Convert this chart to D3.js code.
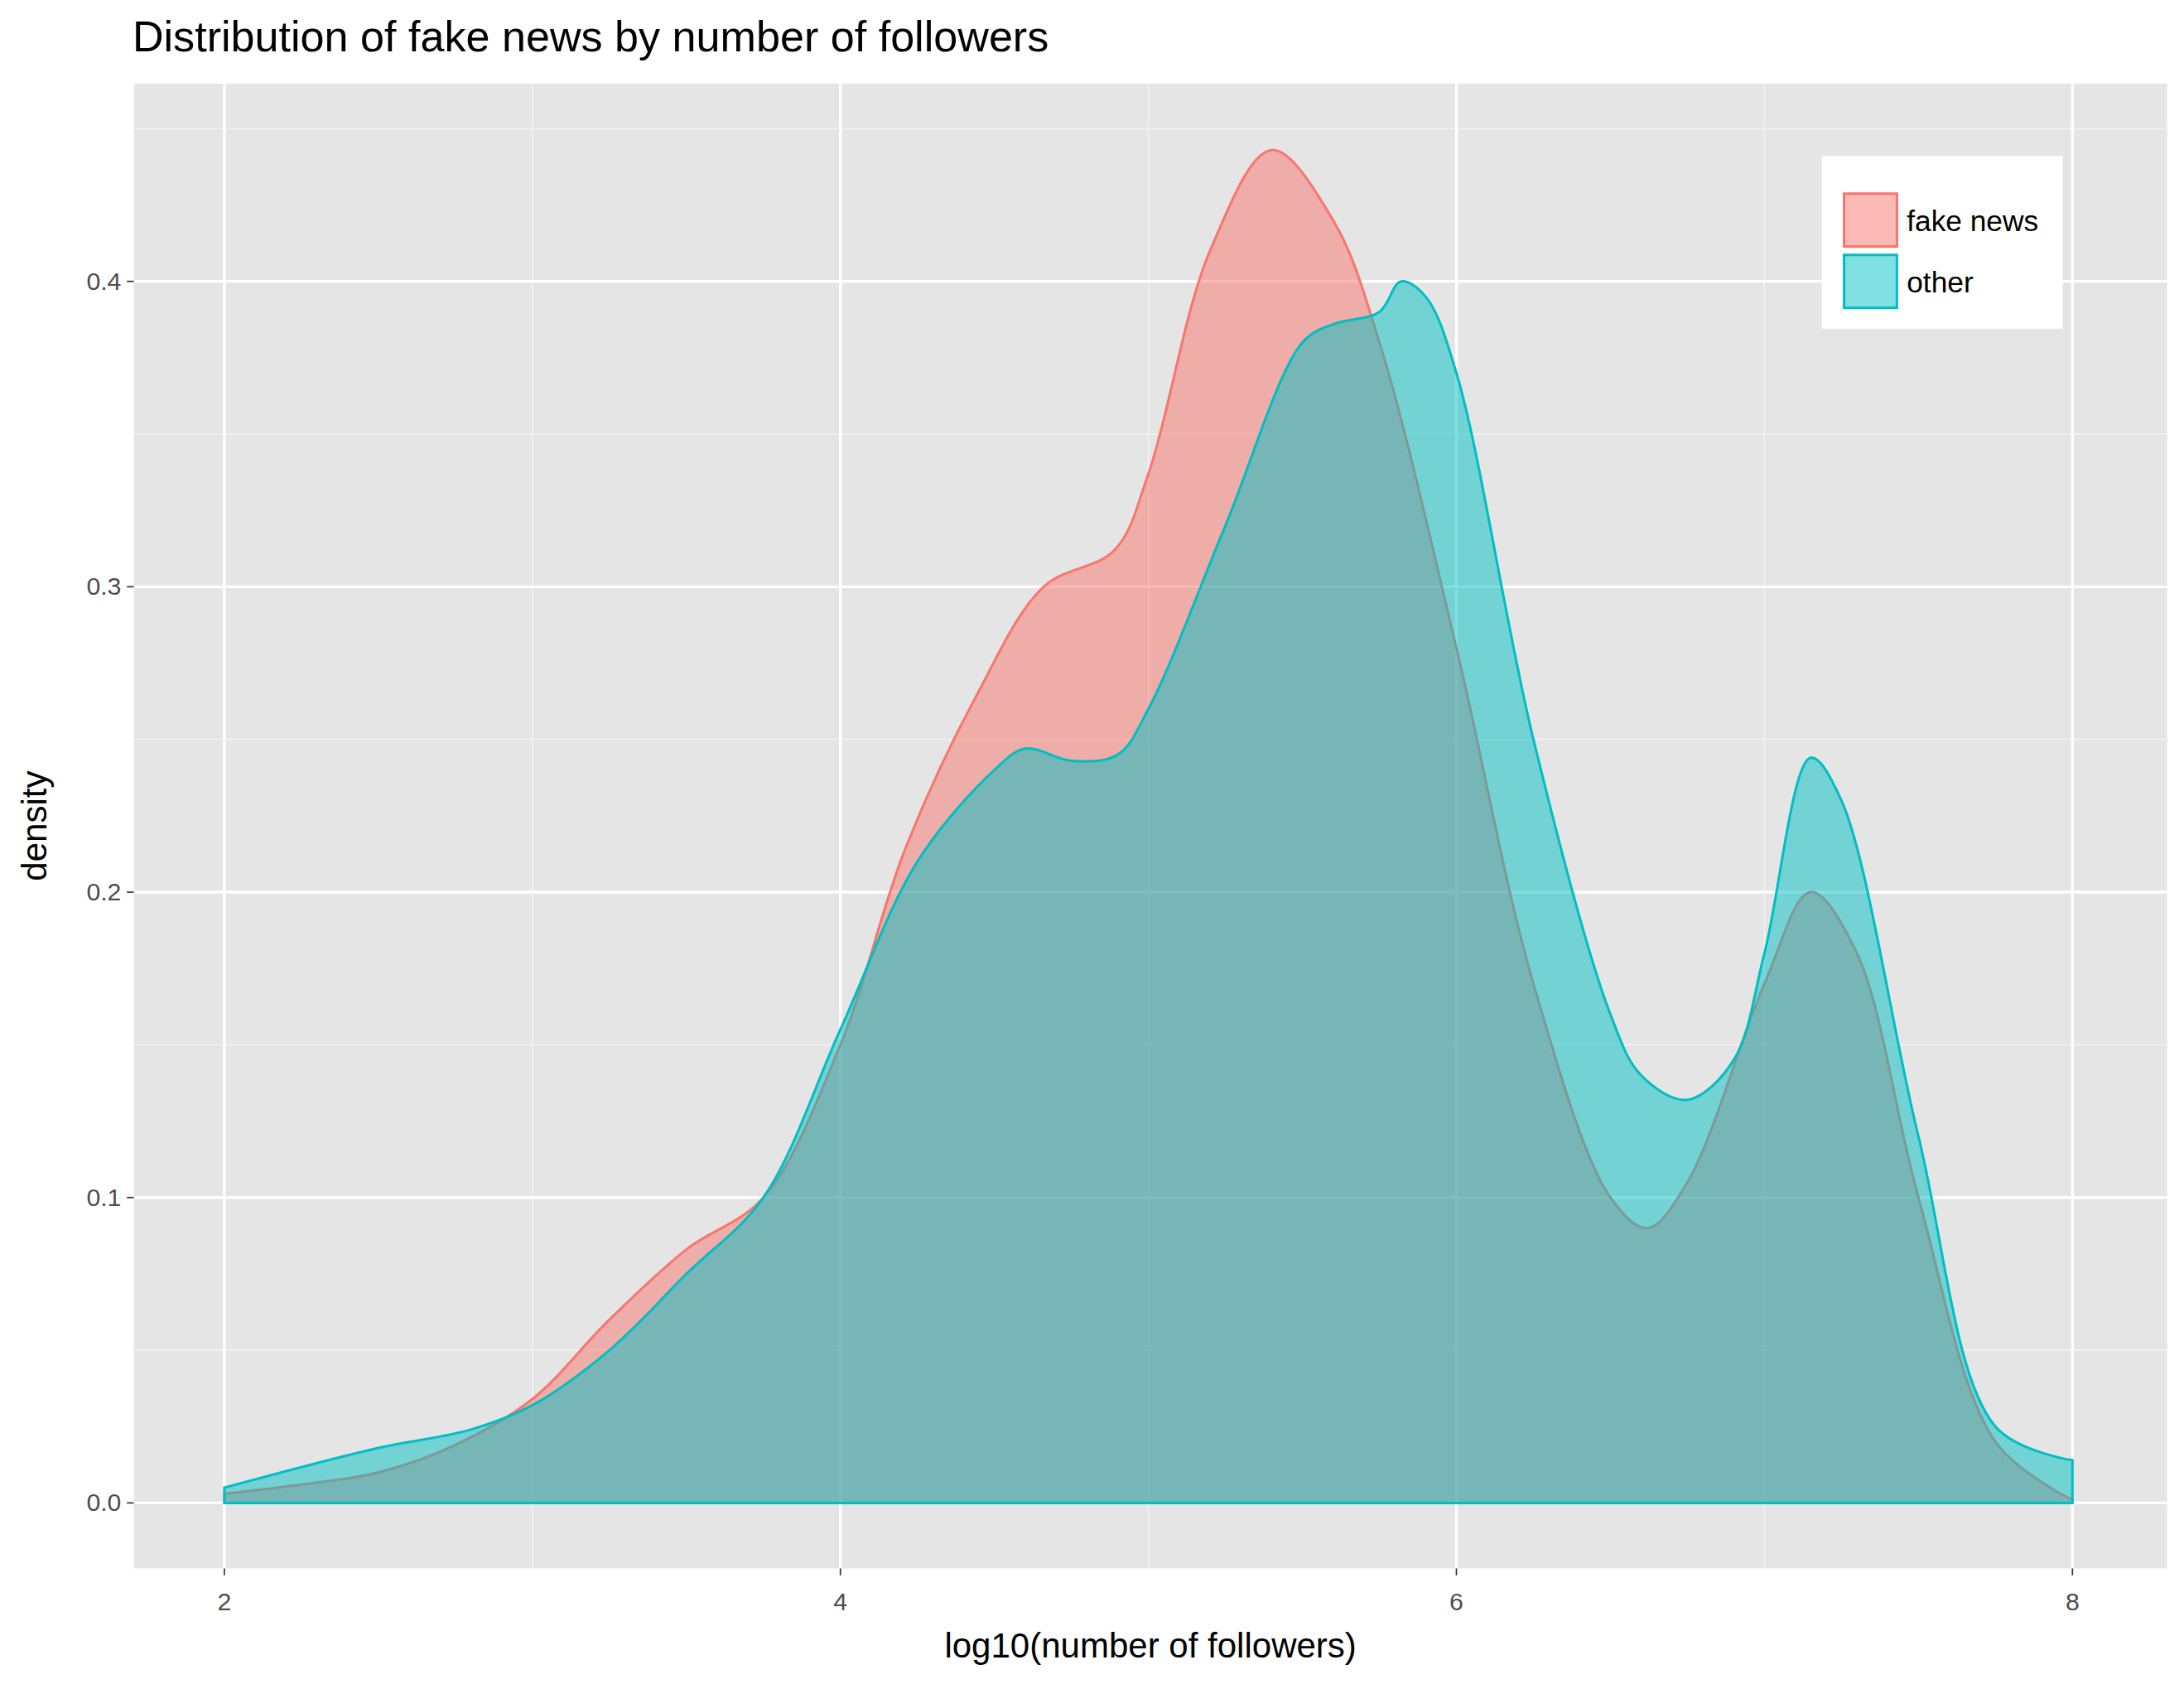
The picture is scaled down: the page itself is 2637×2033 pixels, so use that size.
<!DOCTYPE html><html><head><meta charset="utf-8"><script src="https://cdn.jsdelivr.net/npm/d3@7"></script>
<style>body{margin:0;background:#fff}text{font-family:"Liberation Sans",Arial,sans-serif}</style></head><body>
<script>
const xTicks=[2,4,6,8];
const yTicks=[0,0.1,0.2,0.3,0.4];
const seriesNames=["fake news","other"];
const seriesColors=["#F8766D","#00BFC4"];
const fakeX=[2.0,2.25,2.5,2.75,3.0,3.25,3.5,3.75,4.0,4.21,4.44,4.66,4.89,5.0,5.2,5.4,5.6,5.75,6.0,6.25,6.5,6.62,6.75,7.0,7.15,7.3,7.5,7.75,8.0];
const fakeY=[0.003,0.006,0.010,0.019,0.034,0.060,0.083,0.100,0.15,0.214,0.264,0.300,0.312,0.337,0.41,0.443,0.42,0.38,0.28,0.17,0.10,0.09,0.105,0.17,0.2,0.18,0.10,0.02,0.001];
const otherX=[2.0,2.5,2.8,3.0,3.25,3.5,3.75,4.0,4.25,4.5,4.6,4.75,4.9,5.0,5.25,5.5,5.6,5.75,5.82,5.9,6.0,6.25,6.5,6.6,6.75,6.9,7.0,7.15,7.25,7.5,7.75,8.0];
const otherY=[0.005,0.018,0.024,0.032,0.05,0.075,0.10,0.155,0.21,0.24,0.247,0.243,0.245,0.26,0.32,0.38,0.386,0.39,0.40,0.395,0.37,0.25,0.16,0.14,0.132,0.145,0.18,0.244,0.23,0.12,0.025,0.014];

const W=1568,H=1209;
const svg=d3.select("body").append("svg").attr("width",2637).attr("height",2033).attr("viewBox",`0 0 ${W} ${H}`);
const L=96,R=1556,T=60,B=1126;
const x=d3.scaleLinear().domain([2,8]).range([161,1488]);
const y=d3.scaleLinear().domain([0,0.4]).range([1079,202]);
svg.append("rect").attr("x",L).attr("y",T).attr("width",R-L).attr("height",B-T).attr("fill","#E5E5E5");
[3,5,7].forEach(v=>svg.append("line").attr("x1",x(v)).attr("x2",x(v)).attr("y1",T).attr("y2",B).attr("stroke","#F2F2F2").attr("stroke-width",1));
[0.05,0.15,0.25,0.35,0.45].forEach(v=>svg.append("line").attr("x1",L).attr("x2",R).attr("y1",y(v)).attr("y2",y(v)).attr("stroke","#F2F2F2").attr("stroke-width",1));
xTicks.forEach(v=>svg.append("line").attr("x1",x(v)).attr("x2",x(v)).attr("y1",T).attr("y2",B).attr("stroke","#fff").attr("stroke-width",2));
yTicks.forEach(v=>svg.append("line").attr("x1",L).attr("x2",R).attr("y1",y(v)).attr("y2",y(v)).attr("stroke","#fff").attr("stroke-width",2));
const data=[d3.zip(fakeX,fakeY),d3.zip(otherX,otherY)];
const curve=d3.curveCatmullRom.alpha(0.5);
const area=d3.area().x(d=>x(d[0])).y0(y(0)).y1(d=>y(d[1])).curve(curve);
data.forEach((d,i)=>{
  svg.append("path").attr("d",area(d)).attr("fill",seriesColors[i]).attr("fill-opacity",0.5).attr("stroke","none");
  const top=d3.line().x(p=>x(p[0])).y(p=>y(p[1])).curve(curve)(d);
  svg.append("path").attr("d",`M${x(d[0][0])},${y(0)}L${top.slice(1)}L${x(d[d.length-1][0])},${y(0)}Z`).attr("fill","none").attr("stroke",seriesColors[i]).attr("stroke-width",1.8);
});
xTicks.forEach(v=>{svg.append("line").attr("x1",x(v)).attr("x2",x(v)).attr("y1",B).attr("y2",B+5).attr("stroke","#333");
 svg.append("text").attr("x",x(v)).attr("y",B+30).attr("text-anchor","middle").attr("font-size",18).attr("fill","#4D4D4D").text(v);});
yTicks.forEach(v=>{svg.append("line").attr("x1",L-5).attr("x2",L).attr("y1",y(v)).attr("y2",y(v)).attr("stroke","#333");
 svg.append("text").attr("x",L-9).attr("y",y(v)+6).attr("text-anchor","end").attr("font-size",18).attr("fill","#4D4D4D").text(v.toFixed(1));});
svg.append("text").attr("x",(L+R)/2).attr("y",1190).attr("text-anchor","middle").attr("font-size",25).text("log10(number of followers)");
svg.append("text").attr("transform",`translate(33,${(T+B)/2}) rotate(-90)`).attr("text-anchor","middle").attr("font-size",25).text("density");
svg.append("text").attr("x",95).attr("y",37).attr("font-size",31).text("Distribution of fake news by number of followers");
svg.append("rect").attr("x",1308).attr("y",112).attr("width",173).attr("height",124).attr("fill","#fff");
seriesNames.forEach((n,i)=>{const yy=138+i*44;
 svg.append("rect").attr("x",1324).attr("y",yy+1).attr("width",38).attr("height",38).attr("fill",seriesColors[i]).attr("fill-opacity",0.5).attr("stroke",seriesColors[i]).attr("stroke-width",1.8);
 svg.append("text").attr("x",1369).attr("y",yy+28).attr("font-size",21).text(n);});
</script></body></html>
